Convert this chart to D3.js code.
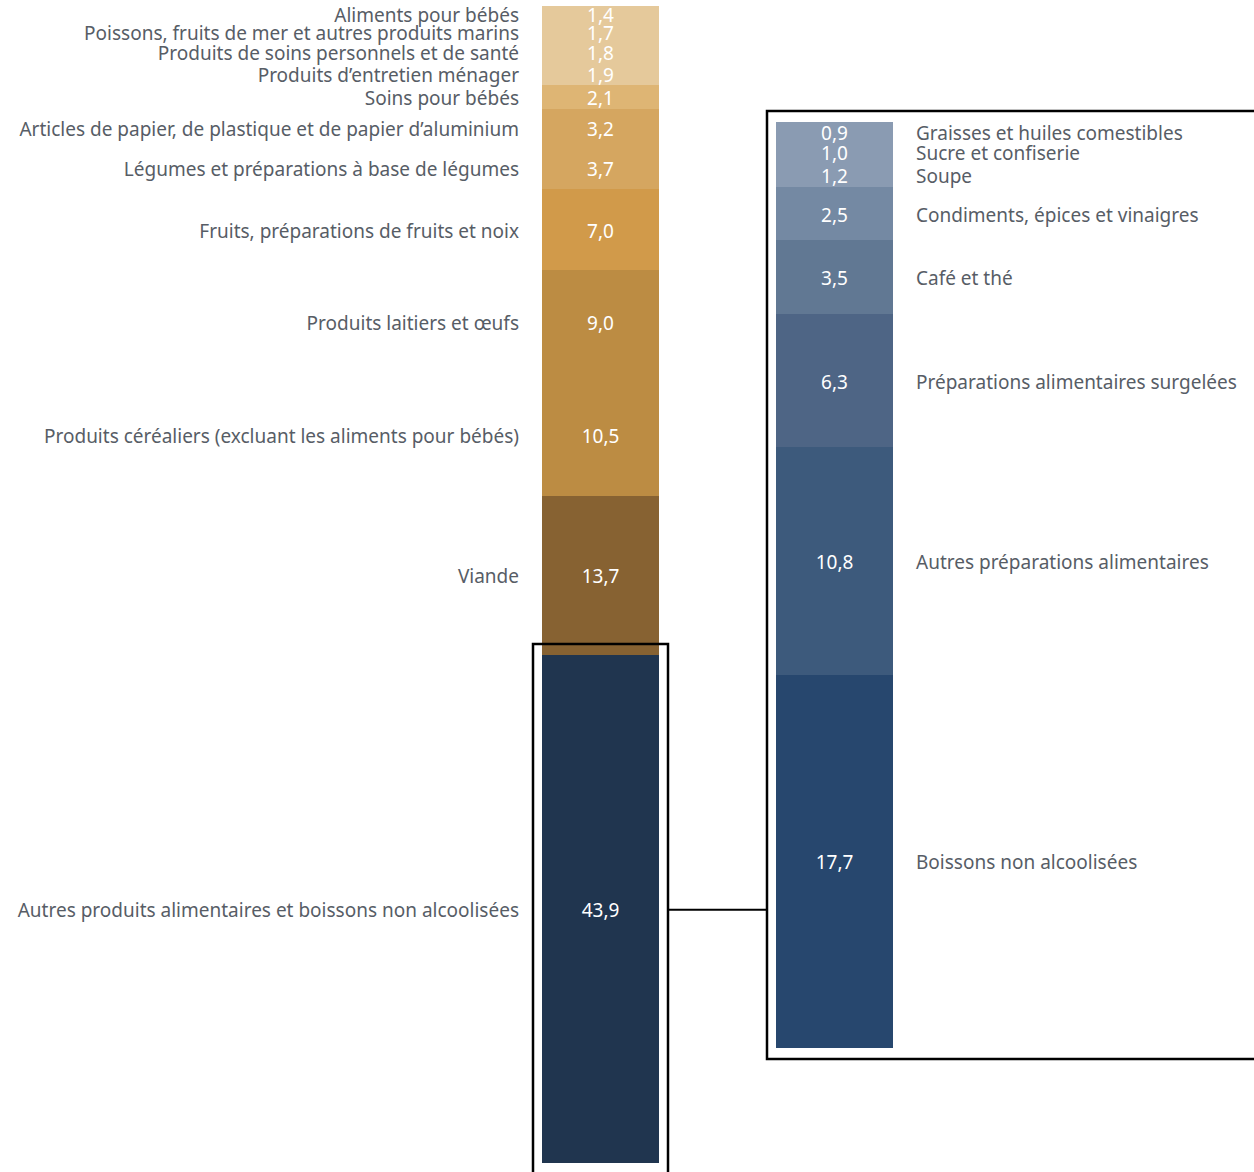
<!DOCTYPE html>
<html>
<head>
<meta charset="utf-8">
<script src="https://cdn.jsdelivr.net/npm/d3@7"></script>
<style>
  body { margin: 0; background: #fff; }
  svg text { font-family: "Noto Sans", sans-serif; }
</style>
</head>
<body>
<svg width="1254" height="1172"></svg>
<script>
var svg = d3.select("svg");

// left bar: shares of total (top to bottom)
var leftCats = ["Aliments pour bébés", "Poissons, fruits de mer et autres produits marins",
    "Produits de soins personnels et de santé", "Produits d’entretien ménager", "Soins pour bébés",
    "Articles de papier, de plastique et de papier d’aluminium", "Légumes et préparations à base de légumes",
    "Fruits, préparations de fruits et noix", "Produits laitiers et œufs",
    "Produits céréaliers (excluant les aliments pour bébés)", "Viande",
    "Autres produits alimentaires et boissons non alcoolisées"];
var leftVals = [1.4, 1.7, 1.8, 1.9, 2.1, 3.2, 3.7, 7.0, 9.0, 10.5, 13.7, 43.9];
var leftColors = ["#e5c99b", "#e5c99b", "#e5c99b", "#e5c99b", "#deb574", "#d5a660", "#d5a660",
    "#d19a4a", "#bc8c43", "#bc8c43", "#876232", "#20354f"];

// right bar: breakdown of the last category
var rightCats = ["Graisses et huiles comestibles", "Sucre et confiserie", "Soupe",
    "Condiments, épices et vinaigres", "Café et thé", "Préparations alimentaires surgelées",
    "Autres préparations alimentaires", "Boissons non alcoolisées"];
var rightVals = [0.9, 1.0, 1.2, 2.5, 3.5, 6.3, 10.8, 17.7];
var rightColors = ["#8a9bb2", "#8a9bb2", "#8a9bb2", "#7489a3", "#617893", "#4e6585", "#3d5a7c", "#27476e"];

var fmt = function(v) { return d3.format(".1f")(v).replace(".", ","); };

function stack(vals) {
    var acc = 0;
    return vals.map(function(v, i) { var d = { i: i, v: v, y0: acc }; acc += v; d.y1 = acc; return d; });
}

var left = stack(leftVals), right = stack(rightVals);
var yL = d3.scaleLinear().domain([0, d3.sum(leftVals)]).range([6, 1163]);
var yR = d3.scaleLinear().domain([0, d3.sum(rightVals)]).range([122, 1048]);
var xL = { x: 542, w: 117 }, xR = { x: 776, w: 117 };

function drawBar(data, y, pos, cats, colors, labelX, anchor) {
    var g = svg.append("g");
    g.selectAll("rect").data(data).join("rect")
        .attr("x", pos.x).attr("width", pos.w)
        .attr("y", d => Math.round(y(d.y0))).attr("height", d => Math.round(y(d.y1)) - Math.round(y(d.y0)))
        .attr("fill", d => colors[d.i])
        .attr("shape-rendering", "crispEdges");
    g.selectAll("text.val").data(data).join("text").attr("class", "val")
        .attr("x", pos.x + pos.w / 2).attr("y", d => (y(d.y0) + y(d.y1)) / 2 + 1.5)
        .attr("dy", "0.35em").attr("text-anchor", "middle")
        .attr("fill", "#fff").attr("font-size", 19)
        .text(d => fmt(d.v));
    g.selectAll("text.lab").data(data).join("text").attr("class", "lab")
        .attr("x", labelX).attr("y", d => (y(d.y0) + y(d.y1)) / 2 + 1.5)
        .attr("dy", "0.35em").attr("text-anchor", anchor)
        .attr("fill", "#575d66").attr("font-size", 19)
        .text(d => cats[d.i]);
}

drawBar(left, yL, xL, leftCats, leftColors, 519, "end");
drawBar(right, yR, xR, rightCats, rightColors, 916, "start");

// highlight boxes and connector
var last = left[left.length - 1];
svg.append("rect").attr("x", 533).attr("y", 644).attr("width", 135).attr("height", 540)
    .attr("fill", "none").attr("stroke", "#000").attr("stroke-width", 2.5);
svg.append("rect").attr("x", 767).attr("y", 111).attr("width", 500).attr("height", 948)
    .attr("fill", "none").attr("stroke", "#000").attr("stroke-width", 2.5);
svg.append("line").attr("x1", 668).attr("x2", 767)
    .attr("y1", (yL(last.y0) + yL(last.y1)) / 2 + 1).attr("y2", (yL(last.y0) + yL(last.y1)) / 2 + 1)
    .attr("stroke", "#000").attr("stroke-width", 2);
</script>
</body>
</html>
